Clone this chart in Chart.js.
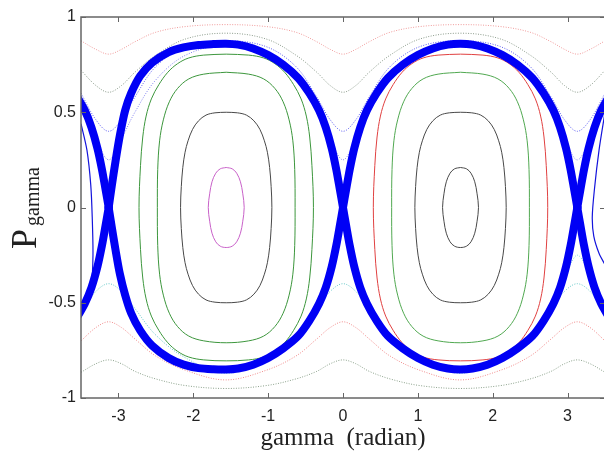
<!DOCTYPE html>
<html lang="en">
<head>
    <meta charset="UTF-8">
    <title>Phase portrait - P_gamma vs gamma</title>
    <script src="https://cdn.jsdelivr.net/npm/chart.js"></script>
    <style>
        html, body { margin: 0; padding: 0; background: #fff; overflow: hidden; }
        #wrap { width: 612px; height: 456px; }
    </style>
</head>
<body>
    <div id="wrap"><canvas id="phaseChart"></canvas></div>
    <script>
        // Tick values of both axes
        const xTicks = [-3, -2, -1, 0, 1, 2, 3];
        const yTicks = [-1, -0.5, 0, 0.5, 1];

        // Thick blue separatrix band as [gamma, P]
        const sepLeftTop = [[-3.13,0],[-3.09,0.11],[-3.04,0.24],[-2.98,0.38],[-2.91,0.51],[-2.83,0.60],[-2.71,0.69],[-2.55,0.76],[-2.33,0.815],[-2.13,0.84],[-1.93,0.853],[-1.73,0.858],[-1.565,0.86],[-1.4,0.855],[-1.2,0.835],[-1.0,0.80],[-0.8,0.75],[-0.6,0.68],[-0.45,0.60],[-0.32,0.51],[-0.23,0.42],[-0.15,0.31],[-0.09,0.20],[-0.04,0.09],[0,0]];
        const sepLeftBottom = [[0,0],[-0.04,-0.09],[-0.09,-0.20],[-0.15,-0.31],[-0.23,-0.42],[-0.32,-0.505],[-0.45,-0.595],[-0.6,-0.675],[-0.8,-0.74],[-1.0,-0.79],[-1.2,-0.825],[-1.4,-0.845],[-1.565,-0.85],[-1.73,-0.849],[-1.93,-0.843],[-2.13,-0.825],[-2.33,-0.79],[-2.55,-0.725],[-2.71,-0.645],[-2.83,-0.555],[-2.91,-0.46],[-2.98,-0.35],[-3.04,-0.22],[-3.09,-0.10],[-3.13,0]];
        const sepRightTop = [[0,0],[0.04,0.09],[0.09,0.20],[0.15,0.31],[0.23,0.42],[0.32,0.51],[0.45,0.60],[0.6,0.68],[0.8,0.75],[1.0,0.80],[1.2,0.835],[1.4,0.855],[1.565,0.86],[1.73,0.855],[1.93,0.835],[2.13,0.80],[2.33,0.75],[2.53,0.68],[2.68,0.60],[2.81,0.51],[2.90,0.42],[2.98,0.31],[3.04,0.20],[3.09,0.09],[3.13,0]];
        const sepRightBottom = [[3.13,0],[3.09,-0.09],[3.04,-0.20],[2.98,-0.31],[2.90,-0.42],[2.81,-0.505],[2.68,-0.595],[2.53,-0.675],[2.33,-0.74],[2.13,-0.79],[1.93,-0.825],[1.73,-0.845],[1.565,-0.85],[1.4,-0.845],[1.2,-0.825],[1.0,-0.79],[0.8,-0.74],[0.6,-0.675],[0.45,-0.595],[0.32,-0.505],[0.23,-0.42],[0.15,-0.31],[0.09,-0.20],[0.04,-0.09],[0,0]];
        const sepEdgeLeftTop = [[-3.58,0.60],[-3.45,0.51],[-3.36,0.42],[-3.28,0.31],[-3.22,0.20],[-3.17,0.09],[-3.13,0]];
        const sepEdgeLeftBottom = [[-3.13,0],[-3.17,-0.09],[-3.22,-0.20],[-3.28,-0.31],[-3.36,-0.42],[-3.45,-0.505],[-3.58,-0.595]];
        const sepEdgeRightTop = [[3.13,0],[3.17,0.09],[3.22,0.20],[3.28,0.31],[3.36,0.42],[3.45,0.51],[3.58,0.60]];
        const sepEdgeRightBottom = [[3.58,-0.595],[3.45,-0.505],[3.36,-0.42],[3.28,-0.31],[3.22,-0.20],[3.17,-0.09],[3.13,0]];
        const edgeLoopLeft = [[-3.5,0.44],[-3.42,0.30],[-3.37,0.12],[-3.35,-0.05],[-3.34,-0.25],[-3.36,-0.40],[-3.42,-0.47],[-3.5,-0.50]];
        const edgeLoopRight = [[3.5,0.50],[3.42,0.30],[3.36,0.10],[3.33,-0.05],[3.35,-0.15],[3.42,-0.24],[3.5,-0.30]];

        // Closed orbits inside the left island (centre near -pi/2)
        const magentaOrbit = [[-1.56,0.21],[-1.48,0.203],[-1.42,0.18],[-1.37,0.135],[-1.34,0.075],[-1.32,0],[-1.34,-0.075],[-1.37,-0.135],[-1.42,-0.18],[-1.48,-0.203],[-1.56,-0.21],[-1.64,-0.203],[-1.70,-0.18],[-1.75,-0.135],[-1.78,-0.075],[-1.80,0],[-1.78,0.075],[-1.75,0.135],[-1.70,0.18],[-1.64,0.203],[-1.56,0.21]];
        const blackOrbitLeft = [[-1.56,0.50],[-1.41,0.497],[-1.29,0.485],[-1.19,0.455],[-1.11,0.41],[-1.05,0.35],[-1.01,0.29],[-0.98,0.21],[-0.96,0.11],[-0.95,0],[-0.96,-0.11],[-0.98,-0.21],[-1.01,-0.29],[-1.05,-0.35],[-1.11,-0.41],[-1.19,-0.455],[-1.29,-0.485],[-1.41,-0.497],[-1.56,-0.50],[-1.71,-0.497],[-1.83,-0.485],[-1.93,-0.455],[-2.01,-0.41],[-2.07,-0.35],[-2.11,-0.29],[-2.14,-0.21],[-2.16,-0.11],[-2.17,0],[-2.16,0.11],[-2.14,0.21],[-2.11,0.29],[-2.07,0.35],[-2.01,0.41],[-1.93,0.455],[-1.83,0.485],[-1.71,0.497],[-1.56,0.50]];
        const greenInnerLeft = [[-1.56,0.71],[-1.26,0.70],[-1.06,0.675],[-0.91,0.625],[-0.80,0.555],[-0.72,0.46],[-0.67,0.35],[-0.645,0.20],[-0.64,0],[-0.645,-0.20],[-0.67,-0.35],[-0.72,-0.46],[-0.80,-0.555],[-0.91,-0.625],[-1.06,-0.675],[-1.26,-0.70],[-1.56,-0.71],[-1.86,-0.70],[-2.06,-0.675],[-2.21,-0.625],[-2.32,-0.555],[-2.40,-0.46],[-2.45,-0.35],[-2.475,-0.20],[-2.48,0],[-2.475,0.20],[-2.45,0.35],[-2.40,0.46],[-2.32,0.555],[-2.21,0.625],[-2.06,0.675],[-1.86,0.70],[-1.56,0.71]];
        const greenOuterLeft = [[-1.56,0.805],[-1.26,0.80],[-1.06,0.785],[-0.91,0.755],[-0.78,0.71],[-0.66,0.645],[-0.56,0.57],[-0.49,0.48],[-0.445,0.37],[-0.415,0.22],[-0.395,0],[-0.415,-0.22],[-0.445,-0.37],[-0.49,-0.48],[-0.56,-0.57],[-0.66,-0.645],[-0.78,-0.71],[-0.91,-0.755],[-1.06,-0.785],[-1.26,-0.80],[-1.56,-0.805],[-1.86,-0.80],[-2.06,-0.785],[-2.21,-0.755],[-2.34,-0.71],[-2.46,-0.645],[-2.56,-0.57],[-2.63,-0.48],[-2.675,-0.37],[-2.705,-0.22],[-2.725,0],[-2.705,0.22],[-2.675,0.37],[-2.63,0.48],[-2.56,0.57],[-2.46,0.645],[-2.34,0.71],[-2.21,0.755],[-2.06,0.785],[-1.86,0.80],[-1.56,0.805]];

        // Closed orbits inside the right island (centre near +pi/2)
        const blackSmallRight = [[1.57,0.21],[1.65,0.203],[1.71,0.18],[1.76,0.135],[1.79,0.075],[1.81,0],[1.79,-0.075],[1.76,-0.135],[1.71,-0.18],[1.65,-0.203],[1.57,-0.21],[1.49,-0.203],[1.43,-0.18],[1.38,-0.135],[1.35,-0.075],[1.33,0],[1.35,0.075],[1.38,0.135],[1.43,0.18],[1.49,0.203],[1.57,0.21]];
        const blackOrbitRight = [[1.57,0.50],[1.72,0.497],[1.84,0.485],[1.94,0.455],[2.02,0.41],[2.08,0.35],[2.12,0.29],[2.15,0.21],[2.17,0.11],[2.18,0],[2.17,-0.11],[2.15,-0.21],[2.12,-0.29],[2.08,-0.35],[2.02,-0.41],[1.94,-0.455],[1.84,-0.485],[1.72,-0.497],[1.57,-0.50],[1.42,-0.497],[1.30,-0.485],[1.20,-0.455],[1.12,-0.41],[1.06,-0.35],[1.02,-0.29],[0.99,-0.21],[0.97,-0.11],[0.96,0],[0.97,0.11],[0.99,0.21],[1.02,0.29],[1.06,0.35],[1.12,0.41],[1.20,0.455],[1.30,0.485],[1.42,0.497],[1.57,0.50]];
        const greenRight = [[1.57,0.71],[1.87,0.70],[2.07,0.675],[2.22,0.625],[2.33,0.555],[2.41,0.46],[2.46,0.35],[2.485,0.20],[2.49,0],[2.485,-0.20],[2.46,-0.35],[2.41,-0.46],[2.33,-0.555],[2.22,-0.625],[2.07,-0.675],[1.87,-0.70],[1.57,-0.71],[1.27,-0.70],[1.07,-0.675],[0.92,-0.625],[0.81,-0.555],[0.73,-0.46],[0.68,-0.35],[0.655,-0.20],[0.65,0],[0.655,0.20],[0.68,0.35],[0.73,0.46],[0.81,0.555],[0.92,0.625],[1.07,0.675],[1.27,0.70],[1.57,0.71]];
        const redRight = [[1.57,0.805],[1.87,0.80],[2.07,0.785],[2.22,0.755],[2.35,0.71],[2.47,0.645],[2.57,0.57],[2.64,0.48],[2.685,0.37],[2.715,0.22],[2.735,0],[2.715,-0.22],[2.685,-0.37],[2.64,-0.48],[2.57,-0.57],[2.47,-0.645],[2.35,-0.71],[2.22,-0.755],[2.07,-0.785],[1.87,-0.80],[1.57,-0.805],[1.27,-0.80],[1.07,-0.785],[0.92,-0.755],[0.79,-0.71],[0.67,-0.645],[0.57,-0.57],[0.50,-0.48],[0.455,-0.37],[0.425,-0.22],[0.405,0],[0.425,0.22],[0.455,0.37],[0.50,0.48],[0.57,0.57],[0.67,0.645],[0.79,0.71],[0.92,0.755],[1.07,0.785],[1.27,0.80],[1.57,0.805]];

        // Rotation orbits outside the separatrix: shared gamma grid and P values
        const rotGamma = [-3.5,-3.3,-3.13,-2.96,-2.78,-2.5,-2.1,-1.565,-1.03,-0.63,-0.35,-0.17,0,0.17,0.35,0.63,1.03,1.565,2.1,2.5,2.78,2.96,3.13,3.3,3.5];
        const pinkTop = [0.875,0.83,0.805,0.83,0.87,0.92,0.95,0.96,0.95,0.92,0.87,0.83,0.805,0.83,0.87,0.92,0.95,0.96,0.95,0.92,0.87,0.83,0.805,0.83,0.875];
        const grayTop = [0.72,0.64,0.605,0.64,0.71,0.80,0.885,0.915,0.885,0.80,0.71,0.64,0.605,0.64,0.71,0.80,0.885,0.915,0.885,0.80,0.71,0.64,0.605,0.64,0.72];
        const blueTopOuter = [0.60,0.46,0.40,0.46,0.58,0.74,0.845,0.875,0.845,0.74,0.58,0.46,0.40,0.46,0.58,0.74,0.845,0.875,0.845,0.74,0.58,0.46,0.40,0.46,0.60];
        const blueTopInner = [0.52,0.36,0.25,0.36,0.50,0.67,0.80,0.85,0.80,0.67,0.50,0.36,0.25,0.36,0.50,0.67,0.80,0.85,0.80,0.67,0.50,0.36,0.25,0.36,0.52];
        const cyanBottom = [-0.545,-0.44,-0.40,-0.44,-0.53,-0.67,-0.79,-0.87,-0.79,-0.67,-0.53,-0.44,-0.40,-0.44,-0.53,-0.67,-0.79,-0.87,-0.79,-0.67,-0.53,-0.44,-0.40,-0.44,-0.545];
        const redBottom = [-0.70,-0.63,-0.60,-0.63,-0.69,-0.78,-0.855,-0.905,-0.855,-0.78,-0.69,-0.63,-0.60,-0.63,-0.69,-0.78,-0.855,-0.905,-0.855,-0.78,-0.69,-0.63,-0.60,-0.63,-0.70];
        const grayBottom = [-0.865,-0.82,-0.80,-0.82,-0.86,-0.90,-0.935,-0.95,-0.935,-0.90,-0.86,-0.82,-0.80,-0.82,-0.86,-0.90,-0.935,-0.95,-0.935,-0.90,-0.86,-0.82,-0.80,-0.82,-0.865];
        const cyanNearPi = [[2.85,-0.50],[2.96,-0.38],[3.05,-0.29],[3.13,-0.25],[3.22,-0.29],[3.31,-0.38],[3.42,-0.47],[3.5,-0.52]];

        // Helpers to turn the arrays into line datasets
        function pairs(list) {
            return list.map(p => ({ x: p[0], y: p[1] }));
        }
        function onGrid(values) {
            return values.map((v, i) => ({ x: rotGamma[i], y: v }));
        }
        function band(list) {
            return { data: pairs(list), borderColor: 'rgb(0,0,245)', borderWidth: 8, tension: 0.3, borderCapStyle: 'round', borderJoinStyle: 'round' };
        }
        function orbit(list, color) {
            return { data: pairs(list), borderColor: color, borderWidth: 1, tension: 0.35 };
        }
        function dotted(data, color) {
            return { data: data, borderColor: color, borderWidth: 1, borderDash: [1, 1.5], tension: 0.35 };
        }

        const datasets = [
            band(sepLeftTop), band(sepLeftBottom), band(sepRightTop), band(sepRightBottom),
            band(sepEdgeLeftTop), band(sepEdgeLeftBottom), band(sepEdgeRightTop), band(sepEdgeRightBottom),
            { data: pairs(edgeLoopLeft), borderColor: 'rgb(20,20,220)', borderWidth: 1.2, tension: 0.3 },
            { data: pairs(edgeLoopRight), borderColor: 'rgb(20,20,220)', borderWidth: 1.2, tension: 0.3 },
            orbit(magentaOrbit, '#c860c8'),
            orbit(blackOrbitLeft, '#484848'),
            orbit(greenInnerLeft, '#3c963c'),
            orbit(greenOuterLeft, '#3c963c'),
            orbit(blackSmallRight, '#484848'),
            orbit(blackOrbitRight, '#484848'),
            orbit(greenRight, '#50a850'),
            orbit(redRight, '#e04040'),
            dotted(onGrid(pinkTop), '#f09a9a'),
            dotted(onGrid(grayTop), '#8a9a8a'),
            dotted(onGrid(blueTopOuter), '#5c5cf0'),
            dotted(onGrid(blueTopInner), '#8080f0'),
            dotted(onGrid(cyanBottom), '#66c8c8'),
            dotted(onGrid(redBottom), '#f08a8a'),
            dotted(onGrid(grayBottom), '#8aa08a'),
            dotted(pairs(cyanNearPi), '#7ad4d4')
        ];

        // Box with inward ticks and the y title with its subscript
        const framePlugin = {
            id: 'framePlugin',
            afterDraw(chart) {
                const { ctx, chartArea: a, scales } = chart;
                ctx.save();
                ctx.strokeStyle = '#666666';
                ctx.lineWidth = 1.5;
                ctx.strokeRect(a.left, a.top, a.right - a.left, a.bottom - a.top);
                ctx.beginPath();
                xTicks.forEach(v => {
                    const px = Math.round(scales.x.getPixelForValue(v)) + 0.5;
                    ctx.moveTo(px, a.bottom); ctx.lineTo(px, a.bottom - 5);
                    ctx.moveTo(px, a.top); ctx.lineTo(px, a.top + 5);
                });
                yTicks.forEach(v => {
                    const py = Math.round(scales.y.getPixelForValue(v)) + 0.5;
                    ctx.moveTo(a.left, py); ctx.lineTo(a.left + 5, py);
                    ctx.moveTo(a.right, py); ctx.lineTo(a.right - 5, py);
                });
                ctx.lineWidth = 1;
                ctx.stroke();

                ctx.translate(36, 249);
                ctx.rotate(-Math.PI / 2);
                ctx.fillStyle = '#222222';
                ctx.textBaseline = 'alphabetic';
                ctx.font = '36px "Liberation Serif"';
                ctx.fillText('P', 0, 0);
                ctx.font = '20px "Liberation Serif"';
                ctx.fillText('gamma', 23, 3);
                ctx.restore();
            }
        };

        Chart.defaults.font.family = '"Liberation Sans", Arial, sans-serif';
        Chart.defaults.font.size = 16;
        Chart.defaults.color = '#222222';

        const ctx = document.getElementById('phaseChart').getContext('2d');
        const phaseChart = new Chart(ctx, {
            type: 'scatter',
            data: { datasets: datasets.map(d => Object.assign({ showLine: true, pointRadius: 0, fill: false }, d)) },
            options: {
                responsive: true,
                maintainAspectRatio: false,
                animation: false,
                layout: { padding: { top: 17, right: 7, left: 0, bottom: 0 } },
                plugins: { legend: { display: false }, tooltip: { enabled: false } },
                scales: {
                    x: {
                        type: 'linear',
                        min: -3.5,
                        max: 3.5,
                        afterBuildTicks: s => { s.ticks = xTicks.map(v => ({ value: v })); },
                        afterFit: s => { s.height = 58; },
                        grid: { display: false, drawTicks: false },
                        border: { display: false },
                        ticks: { padding: 9, callback: v => String(v) },
                        title: {
                            display: true,
                            text: 'gamma  (radian)',
                            font: { family: '"Liberation Serif", serif', size: 25 },
                            color: '#222222',
                            padding: { top: 0, bottom: 3 }
                        }
                    },
                    y: {
                        type: 'linear',
                        min: -1,
                        max: 1,
                        afterBuildTicks: s => { s.ticks = yTicks.map(v => ({ value: v })); },
                        afterFit: s => { s.width = 81; },
                        grid: { display: false, drawTicks: false },
                        border: { display: false },
                        ticks: { padding: 5, callback: v => String(v) }
                    }
                }
            },
            plugins: [framePlugin]
        });
    </script>
</body>
</html>
